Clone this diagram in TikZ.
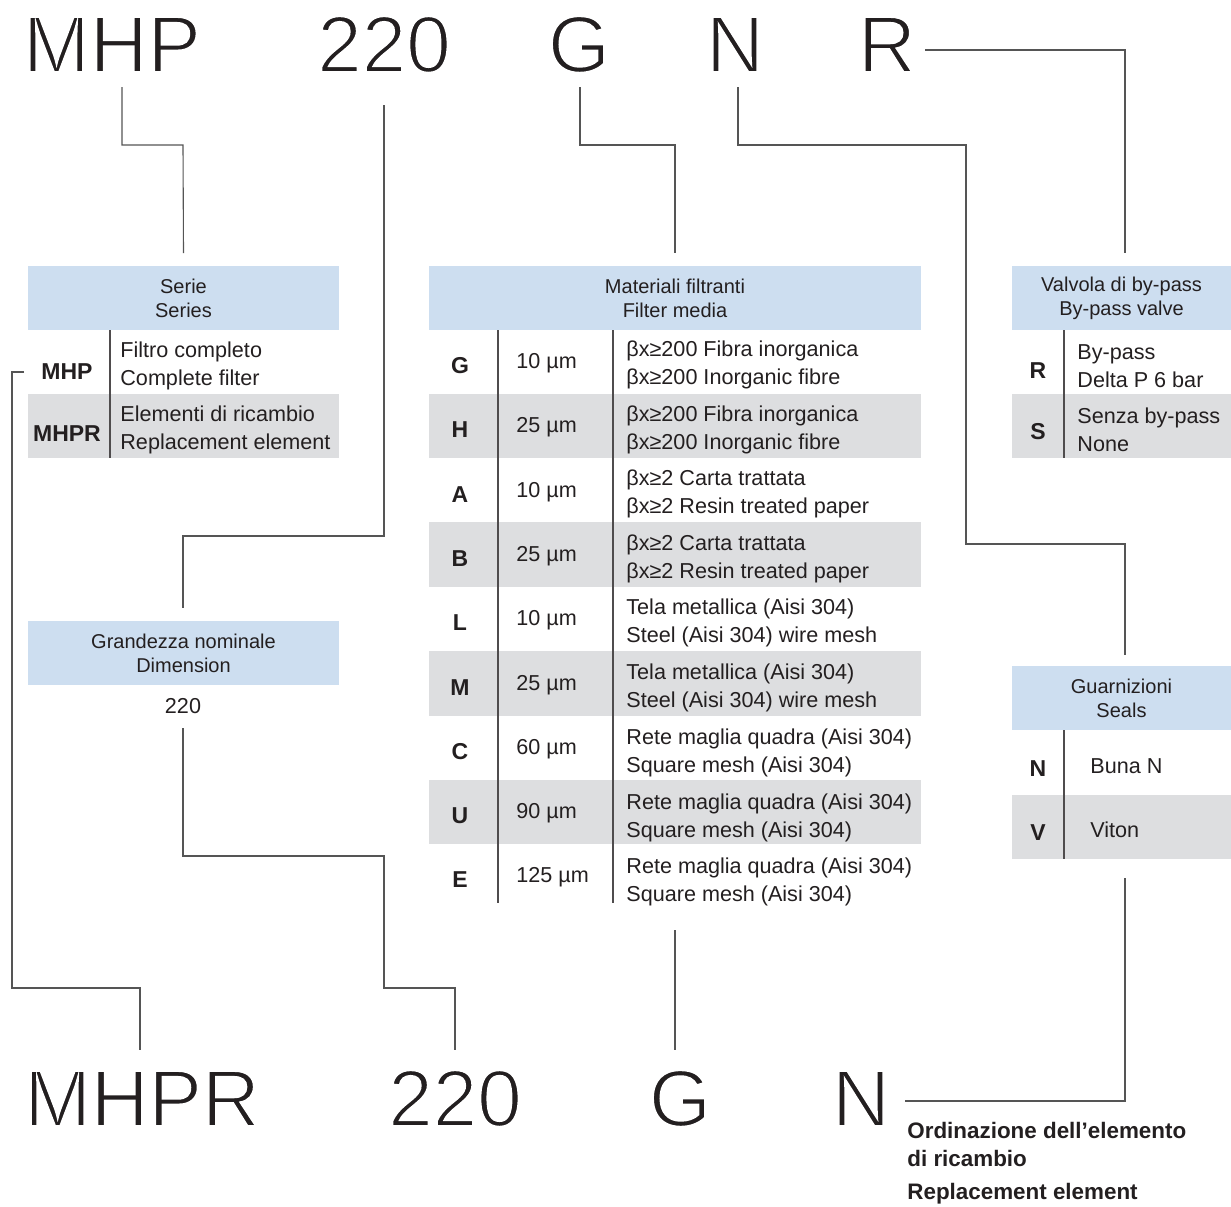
\documentclass[tikz,border=0pt]{standalone}
\usepackage{fontspec}
\setmainfont{Liberation Sans}
\definecolor{hblue}{RGB}{205,222,240}
\definecolor{rgrey}{RGB}{221,222,224}
\definecolor{ink}{RGB}{35,31,32}
\definecolor{lin}{RGB}{85,85,85}
\newcommand\thinbig[1]{\special{pdf:code 2 Tr 1 1 1 RG 1.0 w}#1\special{pdf:code 0 Tr}}
\tikzset{
  big/.style={font=\fontsize{40}{40}\selectfont, text=ink, inner sep=0pt, anchor=base},
  hdr/.style={fill=hblue, draw=none, inner sep=0pt, font=\fontsize{10}{12}\selectfont, align=center, text=ink},
  tx/.style={font=\fontsize{10.8}{14}\selectfont, align=left, text=ink, inner sep=0pt, anchor=west, yshift=-1pt},
  ctx/.style={font=\fontsize{10.8}{14}\selectfont, text=ink, inner sep=0pt},
  cd/.style={font=\fontsize{11.5}{13}\selectfont\bfseries, text=ink, inner sep=0pt},
  note/.style={font=\fontsize{11.2}{13}\selectfont\bfseries, text=ink, inner sep=0pt, anchor=base west},
  conn/.style={draw=lin, line width=0.55pt},
  divl/.style={draw=ink!80, line width=0.65pt},
}
\begin{document}
\begin{tikzpicture}[x=0.5pt,y=-0.5pt]
\useasboundingbox (0,0) rectangle (1231,1206);

% ---------- big code, top ----------
\node[big] (tMHP) at (112,72) {\thinbig{MHP}};
\node[big] (t220) at (384,72) {\thinbig{220}};
\node[big] (tG) at (579,72) {\thinbig{G}};
\node[big] (tN) at (735,72) {\thinbig{N}};
\node[big] (tR) at (887,72) {\thinbig{R}};

% ---------- big code, bottom ----------
\node[big] (bMHPR) at (142,1126) {\thinbig{MHPR}};
\node[big] (b220) at (455,1126) {\thinbig{220}};
\node[big] (bG) at (680,1126) {\thinbig{G}};
\node[big] (bN) at (861,1126) {\thinbig{N}};

% ---------- Serie table ----------
\node[hdr, minimum width=155.5pt, minimum height=32pt] (hSerie) at (183.5,298) {Serie\\Series};
\fill[rgrey] (28,394) rectangle (339,458);
\draw[divl] (110,330) -- (110,458);
\node[cd] (cMHP) at (67,372) {MHP};
\node[cd] (cMHPR) at (67,434) {MHPR};
\node[tx] (dMHP) at (120,364) {Filtro completo\\Complete filter};
\node[tx] (dMHPR) at (120,428) {Elementi di ricambio\\Replacement element};

% ---------- Grandezza table ----------
\node[hdr, minimum width=155.5pt, minimum height=32pt] (hGr) at (183.5,653) {Grandezza nominale\\Dimension};
\node[ctx] (v220) at (183,706) {220};

% ---------- Materiali table ----------
\node[hdr, minimum width=246pt, minimum height=32pt] (hMat) at (675,298) {Materiali filtranti\\Filter media};
\fill[rgrey] (429,394) rectangle (921,458);
\fill[rgrey] (429,522) rectangle (921,587);
\fill[rgrey] (429,651) rectangle (921,716);
\fill[rgrey] (429,780) rectangle (921,844);
\draw[divl] (498,330) -- (498,903);
\draw[divl] (613,330) -- (613,903);

\node[cd] (mG) at (460,366) {G};
\node[cd] (mH) at (460,430) {H};
\node[cd] (mA) at (460,495) {A};
\node[cd] (mB) at (460,559) {B};
\node[cd] (mL) at (460,623) {L};
\node[cd] (mM) at (460,688) {M};
\node[cd] (mC) at (460,752) {C};
\node[cd] (mU) at (460,816) {U};
\node[cd] (mE) at (460,880) {E};

\node[tx] (uG) at (516,361) {10 µm};
\node[tx] (uH) at (516,425) {25 µm};
\node[tx] (uA) at (516,490) {10 µm};
\node[tx] (uB) at (516,554) {25 µm};
\node[tx] (uL) at (516,618) {10 µm};
\node[tx] (uM) at (516,683) {25 µm};
\node[tx] (uC) at (516,747) {60 µm};
\node[tx] (uU) at (516,811) {90 µm};
\node[tx] (uE) at (516,875) {125 µm};

\node[tx] (xG) at (626,363) {βx≥200 Fibra inorganica\\βx≥200 Inorganic fibre};
\node[tx] (xH) at (626,428) {βx≥200 Fibra inorganica\\βx≥200 Inorganic fibre};
\node[tx] (xA) at (626,492) {βx≥2 Carta trattata\\βx≥2 Resin treated paper};
\node[tx] (xB) at (626,557) {βx≥2 Carta trattata\\βx≥2 Resin treated paper};
\node[tx] (xL) at (626,621) {Tela metallica (Aisi 304)\\Steel (Aisi 304) wire mesh};
\node[tx] (xM) at (626,686) {Tela metallica (Aisi 304)\\Steel (Aisi 304) wire mesh};
\node[tx] (xC) at (626,751) {Rete maglia quadra (Aisi 304)\\Square mesh (Aisi 304)};
\node[tx] (xU) at (626,816) {Rete maglia quadra (Aisi 304)\\Square mesh (Aisi 304)};
\node[tx] (xE) at (626,880) {Rete maglia quadra (Aisi 304)\\Square mesh (Aisi 304)};

% ---------- Valvola table ----------
\node[hdr, minimum width=109.5pt, minimum height=32pt] (hVal) at (1121.5,298) {Valvola di by-pass\\By-pass valve};
\fill[rgrey] (1012,394) rectangle (1231,458);
\draw[divl] (1064,330) -- (1064,458);
\node[cd] (vR) at (1038,371) {R};
\node[cd] (vS) at (1038,432) {S};
\node[tx] (dR) at (1077,364) {By-pass\\Delta P 6 bar};
\node[tx] (dS) at (1077,428) {Senza by-pass\\None};

% ---------- Guarnizioni table ----------
\node[hdr, minimum width=109.5pt, minimum height=32pt] (hGu) at (1121.5,698) {Guarnizioni\\Seals};
\fill[rgrey] (1012,795) rectangle (1231,859);
\draw[divl] (1064,730) -- (1064,859);
\node[cd] (gN) at (1038,769) {N};
\node[cd] (gV) at (1038,833) {V};
\node[tx] (dN) at (1090,764) {Buna N};
\node[tx] (dV) at (1090,828) {Viton};

% ---------- note ----------
\node[note] (n1) at (907,1138) {Ordinazione dell’elemento};
\node[note] (n2) at (907,1166) {di ricambio};
\node[note] (n3) at (907,1199) {Replacement element};

% ---------- connectors ----------
\coordinate (k1) at (122,87);
\draw[conn] (k1) -- (122,145) -- (183,145) -- (hSerie.north |- 0,253);
\coordinate (k2) at (384,105);
\draw[conn] (k2) -- (384,536) -- (183,536) -- (183,608);
\coordinate (k3) at (580,87);
\draw[conn] (k3) -- (580,145) -- (675,145) -- (675,253);
\coordinate (k4) at (738,87);
\draw[conn] (k4) -- (738,145) -- (966,145) -- (966,544) -- (1125,544) -- (1125,655);
\coordinate (k5) at (925,50);
\draw[conn] (k5) -- (1125,50) -- (1125,253);
\coordinate (k6) at (24,372);
\draw[conn] (k6) -- (12,372) -- (12,988) -- (140,988) -- (140,1050);
\coordinate (k7) at (183,728);
\draw[conn] (k7) -- (183,856) -- (384,856) -- (384,988) -- (455,988) -- (455,1050);
\coordinate (k8) at (675,930);
\draw[conn] (k8) -- (675,1050);
\coordinate (k9) at (1125,878);
\draw[conn] (k9) -- (1125,1101) -- (905,1101);
\end{tikzpicture}
\end{document}
